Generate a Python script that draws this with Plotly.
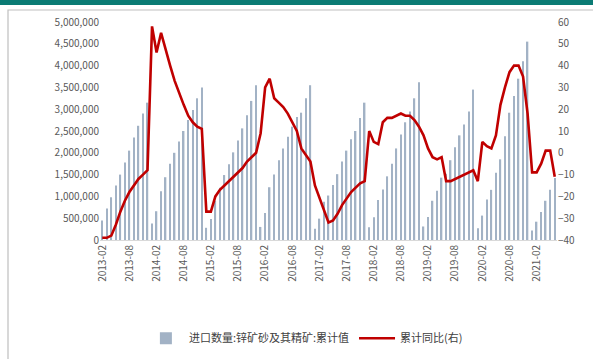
import plotly.graph_objects as go

# Monthly year-to-date cumulative import volume (tonnes), 2013-02 .. 2021-06
months = (
    [f"2013-{m:02d}" for m in range(2, 13)]
    + [f"{y}-{m:02d}" for y in range(2014, 2021) for m in range(1, 13)]
    + [f"2021-{m:02d}" for m in range(1, 7)]
)

cum_2013 = [450000, 720000, 980000, 1250000, 1500000, 1780000, 2050000, 2350000, 2620000, 2900000, 3150000]
cum_2014 = [380000, 660000, 1120000, 1440000, 1750000, 2000000, 2260000, 2500000, 2750000, 2980000, 3250000, 3500000]
cum_2015 = [280000, 480000, 900000, 1200000, 1490000, 1740000, 2010000, 2280000, 2560000, 2860000, 3190000, 3550000]
cum_2016 = [300000, 620000, 1210000, 1500000, 1830000, 2100000, 2370000, 2600000, 2820000, 2920000, 3250000, 3550000]
cum_2017 = [260000, 490000, 880000, 1020000, 1260000, 1510000, 1800000, 2050000, 2310000, 2500000, 2800000, 3150000]
cum_2018 = [290000, 520000, 920000, 1160000, 1460000, 1750000, 2100000, 2420000, 2700000, 2950000, 3250000, 3620000]
cum_2019 = [310000, 530000, 900000, 1130000, 1430000, 1520000, 1830000, 2130000, 2400000, 2650000, 2950000, 3450000]
cum_2020 = [270000, 560000, 930000, 1150000, 1540000, 1850000, 2380000, 2920000, 3300000, 3700000, 4100000, 4550000]
cum_2021 = [220000, 420000, 640000, 900000, 1150000, 1420000]

# Year-on-year change of the cumulative value (%)
yoy_2013 = [-39, -39, -38, -33, -27, -22, -18, -15, -12, -10, -8]
yoy_2014 = [58, 46, 55, 47, 40, 33, 27, 22, 17, 14, 12, 11]
yoy_2015 = [-27, -27, -20, -17, -15, -13, -11, -9, -7, -4, -2, 0]
yoy_2016 = [9, 30, 34, 25, 23, 21, 18, 14, 10, 2, -1, -4]
yoy_2017 = [-15, -21, -27, -32, -31, -28, -24, -21, -18, -16, -14, -13]
yoy_2018 = [10, 5, 4, 14, 16, 16, 17, 18, 17, 17, 15, 12]
yoy_2019 = [8, 2, -2, -3, -2, -13, -13, -12, -11, -10, -9, -8]
yoy_2020 = [-13, 5, 3, 2, 8, 22, 30, 37, 40, 40, 35, 18]
yoy_2021 = [-9, -9, -5, 1, 1, -11]

cum_values = cum_2013 + cum_2014 + cum_2015 + cum_2016 + cum_2017 + cum_2018 + cum_2019 + cum_2020 + cum_2021
yoy_values = yoy_2013 + yoy_2014 + yoy_2015 + yoy_2016 + yoy_2017 + yoy_2018 + yoy_2019 + yoy_2020 + yoy_2021

tick_labels = months[::6]

bar_name = "进口数量:锌矿砂及其精矿:累计值"
line_name = "累计同比(右)"

font_family = "Noto Sans CJK SC, Noto Sans, sans-serif"
tick_color = "#595959"

fig = go.Figure()
fig.add_trace(go.Bar(
    x=months, y=cum_values, name=bar_name,
    marker=dict(color="#a2b2c5", line=dict(width=0)),
    yaxis="y",
))
fig.add_trace(go.Scatter(
    x=months, y=yoy_values, name=line_name, mode="lines",
    line=dict(color="#c00000", width=2.6),
    yaxis="y2",
))

fig.update_layout(
    width=593, height=359,
    margin=dict(l=100, r=36, t=22, b=119, autoexpand=False),
    paper_bgcolor="white", plot_bgcolor="white",
    font=dict(family=font_family, size=10, color=tick_color),
    bargap=0.68,
    showlegend=True,
    legend=dict(
        orientation="h", xref="container", yref="container",
        x=0.515, xanchor="center", y=0.058, yanchor="middle",
        font=dict(size=11, color="#404040"), itemwidth=36,
        traceorder="normal",
    ),
    xaxis=dict(
        type="category", categoryorder="array", categoryarray=months,
        tickmode="array", tickvals=tick_labels, ticktext=tick_labels,
        tickangle=-90, showgrid=False, showline=True, linecolor="#d9d9d9",
        ticks="", tickfont=dict(size=10, color=tick_color),
        range=[-0.5, len(months) - 0.5],
    ),
    yaxis=dict(
        range=[0, 5000000], dtick=500000, tickformat=",",
        showgrid=False, zeroline=False, showline=False, ticks="",
        tickfont=dict(size=10, color=tick_color),
    ),
    yaxis2=dict(
        overlaying="y", side="right",
        range=[-40, 60], dtick=10,
        showgrid=False, zeroline=False, showline=False, ticks="",
        tickfont=dict(size=10, color=tick_color),
    ),
    shapes=[
        # teal header band
        dict(type="rect", xref="paper", yref="paper",
             x0=-100 / 457, x1=1 + 36 / 457, y0=1 + 17 / 218, y1=1 + 22 / 218,
             fillcolor="#0b7b74", line=dict(width=0), layer="above"),
        # light frame around the chart
        dict(type="rect", xref="paper", yref="paper",
             x0=-92 / 457, x1=1 + 40 / 457, y0=-125 / 218, y1=1 + 12 / 218,
             fillcolor="rgba(0,0,0,0)", line=dict(color="#bfbfbf", width=1.2)),
    ],
)

fig.write_html("out.html")
